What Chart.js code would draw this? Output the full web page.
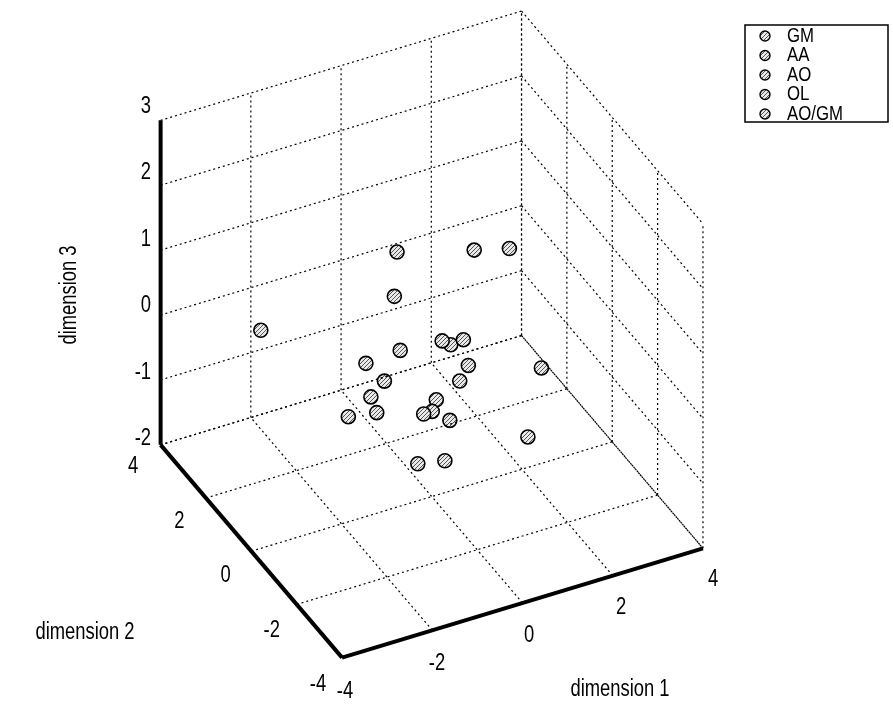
<!DOCTYPE html>
<html>
<head>
<meta charset="utf-8">
<script src="https://cdn.jsdelivr.net/npm/chart.js@4"></script>
<style>
  html, body { margin: 0; padding: 0; background: #fff; }
  #wrap { width: 893px; height: 715px; }
</style>
</head>
<body>
<div id="wrap"><canvas id="c"></canvas></div>
<script>
// 3D data: [dimension 1, dimension 2, dimension 3]
const groups = ["GM", "AA", "AO", "OL", "AO/GM"];
const gmPts = [[-3.79, 0, 1.36], [-0.77, 0, 1.93], [0.94, 0, 1.60], [1.72, 0, 1.46], [2.43, 0, -0.53]];
const aaPts = [[-0.83, 0, 1.26], [-1.46, 0, 0.36], [-0.70, 0, 0.40], [0.23, 0, 0.35], [2.13, 0, -1.53]];
const aoPts = [[0.42, 0, 0.25], [0.70, 0, 0.27], [0.81, 0, -0.15], [0.62, 0, -0.35], [-0.31, 0, -1.43]];
const olPts = [[-1.05, 0, 0.00], [-1.35, 0, -0.18], [-1.85, 0, -0.38], [-1.22, 0, -0.45], [0.29, 0, -1.51]];
const aogmPts = [[0.10, 0, -0.53], [0.01, 0, -0.69], [-0.18, 0, -0.69], [0.40, 0, -0.91]];

const d1Ticks = [-4, -2, 0, 2, 4];
const d2Ticks = [-4, -2, 0, 2, 4];
const d3Ticks = [-2, -1, 0, 1, 2, 3];

// projection of the 3D box onto the page
function proj(d1, d2, z) {
  const u = (d1 + 4) / 8, v = (4 - d2) / 8;
  return { x: 155 + 368 * u + 185 * v, y: 447 - 112 * u + 218 * v - 66.5 * (z + 2) };
}
const seg = (a, b) => [proj(...a), proj(...b)];

const gridSegs = [];
for (const t of d1Ticks) {
  gridSegs.push(seg([t, -4, -2], [t, 4, -2]));   // floor
  gridSegs.push(seg([t, 4, -2], [t, 4, 3]));     // back wall
}
for (const t of d2Ticks) {
  gridSegs.push(seg([-4, t, -2], [4, t, -2]));   // floor
  gridSegs.push(seg([4, t, -2], [4, t, 3]));     // side wall
}
for (const t of d3Ticks) {
  gridSegs.push(seg([-4, 4, t], [4, 4, t]));
  gridSegs.push(seg([4, 4, t], [4, -4, t]));
}
const axisSegs = [
  seg([-4, 4, -2], [-4, 4, 3]),
  seg([-4, 4, -2], [-4, -4, -2]),
  seg([-4, -4, -2], [4, -4, -2])
];

function hatch() {
  const p = document.createElement("canvas");
  p.width = 4; p.height = 4;
  const g = p.getContext("2d");
  g.fillStyle = "#e8e8e8"; g.fillRect(0, 0, 4, 4);
  g.strokeStyle = "#555"; g.lineWidth = 1;
  g.beginPath(); g.moveTo(0, 4); g.lineTo(4, 0); g.stroke();
  return g.createPattern(p, "repeat");
}
const fillPat = hatch();

const datasets = [];
for (const s of gridSegs) datasets.push({ type: "line", data: s, borderColor: "#000", borderWidth: 1.2, borderDash: [2, 3], pointRadius: 0 });
for (const s of axisSegs) datasets.push({ type: "line", data: s, borderColor: "#000", borderWidth: 4, pointRadius: 0 });
[gmPts, aaPts, aoPts, olPts, aogmPts].forEach((pts, i) => datasets.push({
  type: "scatter", label: groups[i], data: pts.map(p => proj(...p)),
  pointRadius: 7, borderColor: "#000", borderWidth: 1.6, backgroundColor: fillPat
}));

const FONT = "'Liberation Sans Narrow', 'Liberation Sans', Arial, sans-serif";
// narrow text: squeeze horizontally
function text(ctx, s, x, y, align, size) {
  ctx.save();
  ctx.font = size + "px " + FONT;
  ctx.textAlign = align;
  ctx.translate(x, y); ctx.scale(0.8, 1);
  ctx.fillText(s, 0, 0);
  ctx.restore();
}
const labelsPlugin = {
  id: "labels",
  afterDraw(chart) {
    const ctx = chart.ctx;
    ctx.save();
    ctx.fillStyle = "#000";
    ctx.textBaseline = "middle";
    for (const t of d3Ticks) { const p = proj(-4, 4, t); text(ctx, String(t), p.x - 4, p.y - 8, "right", 23); }
    for (const t of d2Ticks) { const p = proj(-4, t, -2); text(ctx, String(t), p.x - 22, p.y + 20, "center", 23); }
    for (const t of d1Ticks) { const p = proj(t, -4, -2); text(ctx, String(t), p.x + 5, p.y + 27, "center", 23); }
    text(ctx, "dimension 1", 620, 690, "center", 23);
    text(ctx, "dimension 2", 85, 633, "center", 23);
    ctx.save(); ctx.translate(70, 295); ctx.rotate(-Math.PI / 2); text(ctx, "dimension 3", 0, 0, "center", 23); ctx.restore();
    // legend
    ctx.fillStyle = "#fff"; ctx.fillRect(745, 25, 143, 97);
    ctx.strokeStyle = "#000"; ctx.lineWidth = 1.5; ctx.strokeRect(745, 25, 143, 97);
    groups.forEach((g, i) => {
      const y = 36 + i * 19.5;
      ctx.beginPath(); ctx.arc(765, y, 5, 0, Math.PI * 2);
      ctx.fillStyle = fillPat; ctx.fill(); ctx.lineWidth = 1.4; ctx.stroke();
      ctx.fillStyle = "#000"; text(ctx, g, 787, y, "left", 21);
    });
    ctx.restore();
  }
};

new Chart(document.getElementById("c"), {
  type: "scatter",
  data: { datasets },
  options: {
    responsive: true, maintainAspectRatio: false, animation: false,
    layout: { padding: 0 },
    plugins: { legend: { display: false }, tooltip: { enabled: false } },
    scales: {
      x: { type: "linear", min: 0, max: 893, display: false },
      y: { type: "linear", min: 0, max: 715, reverse: true, display: false }
    }
  },
  plugins: [labelsPlugin]
});
</script>
</body>
</html>
